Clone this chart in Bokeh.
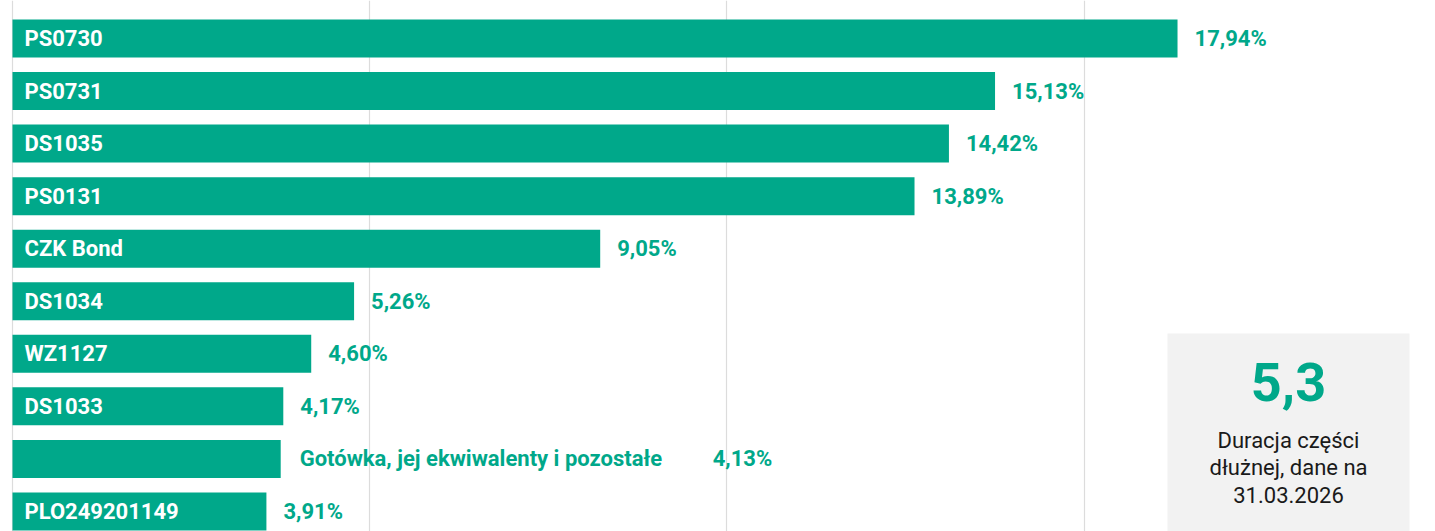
from bokeh.plotting import figure
from bokeh.models import ColumnDataSource, Range1d, FixedTicker, BoxAnnotation, Label
from bokeh.core.properties import value
from bokeh.embed import file_html
from bokeh.resources import INLINE

categories = ["PS0730", "PS0731", "DS1035", "PS0131", "CZK Bond", "DS1034",
              "WZ1127", "DS1033", "Gotówka, jej ekwiwalenty i pozostałe", "PLO249201149"]
values = [17.94, 15.13, 14.42, 13.89, 9.05, 5.26, 4.60, 4.17, 4.13, 3.91]
outside_label = [False, False, False, False, False, False, False, False, True, False]
grid_ticks = [0, 5.5, 11, 16.5, 22]
duration_value = "5,3"
duration_lines = ["Duracja części", "dłużnej, dane na", "31.03.2026"]

GREEN = "#00a88a"
FONT = "Roboto"
W, H = 1435, 531
px_per_unit = 64.94
x0_px = 12
row_px = 52.55
first_center_px = 38

x_start = -x0_px / px_per_unit
x_end = (W - x0_px) / px_per_unit
y_top = -first_center_px / row_px
y_bottom = (H - first_center_px) / row_px

def fmt(v):
    return f"{v:.2f}".replace(".", ",") + "%"

idx = list(range(len(categories)))
src = ColumnDataSource(dict(
    y=idx, v=values,
    in_label=["" if o else c for c, o in zip(categories, outside_label)],
    out_label=[c if o else "" for c, o in zip(categories, outside_label)],
    val_plain=["" if o else fmt(v) for v, o in zip(values, outside_label)],
    val_after=[fmt(v) if o else "" for v, o in zip(values, outside_label)],
    zero=[0.0] * len(values),
))

p = figure(width=W, height=H, output_backend="svg", toolbar_location=None,
           x_range=Range1d(x_start, x_end), y_range=Range1d(y_bottom, y_top),
           min_border=0, min_border_left=0, min_border_right=0,
           min_border_top=0, min_border_bottom=0)
p.outline_line_color = None
p.xaxis.visible = False
p.yaxis.visible = False
p.ygrid.visible = False
p.xgrid.ticker = FixedTicker(ticks=grid_ticks)
p.xgrid.grid_line_color = "#dcdcdc"
p.xgrid.grid_line_width = 1.2
p.background_fill_color = "white"
p.border_fill_color = "white"

p.hbar(y="y", left="zero", right="v", height=38 / row_px, source=src,
       fill_color=GREEN, line_color=None)

FS = "22px"
lbl_x = 12 / px_per_unit
p.text(x=lbl_x, y="y", text="in_label", source=src, text_color="white",
       text_font=value(FONT), text_font_style="bold", text_font_size=FS,
       text_baseline="middle", text_align="left")
p.text(x="v", y="y", text="val_plain", source=src, text_color=GREEN, x_offset=17,
       text_font=value(FONT), text_font_style="bold", text_font_size=FS,
       text_baseline="middle", text_align="left")
p.text(x="v", y="y", text="out_label", source=src, text_color=GREEN, x_offset=19,
       text_font=value(FONT), text_font_style="bold", text_font_size=FS,
       text_baseline="middle", text_align="left")
p.text(x="v", y="y", text="val_after", source=src, text_color=GREEN, x_offset=432,
       text_font=value(FONT), text_font_style="bold", text_font_size=FS,
       text_baseline="middle", text_align="left")

# inset box
def xd(px):
    return (px - x0_px) / px_per_unit

def yd(py):
    return (py - first_center_px) / row_px

box = BoxAnnotation(left=xd(1167), right=xd(1409), top=yd(333), bottom=yd(560),
                    fill_color="#f2f2f2", fill_alpha=1, line_color=None, level="underlay")
p.add_layout(box)
p.add_layout(Label(x=xd(1288), y=yd(381), text=duration_value, text_align="center",
                   text_baseline="middle", text_color=GREEN, text_font=FONT,
                   text_font_style="bold", text_font_size="54px"))
for i, line in enumerate(duration_lines):
    p.add_layout(Label(x=xd(1288), y=yd(440 + 27 * i), text=line, text_align="center",
                       text_baseline="middle", text_color="#1a1a1a", text_font=FONT,
                       text_font_size="22px"))

open("out.html", "w").write(file_html(p, INLINE))
